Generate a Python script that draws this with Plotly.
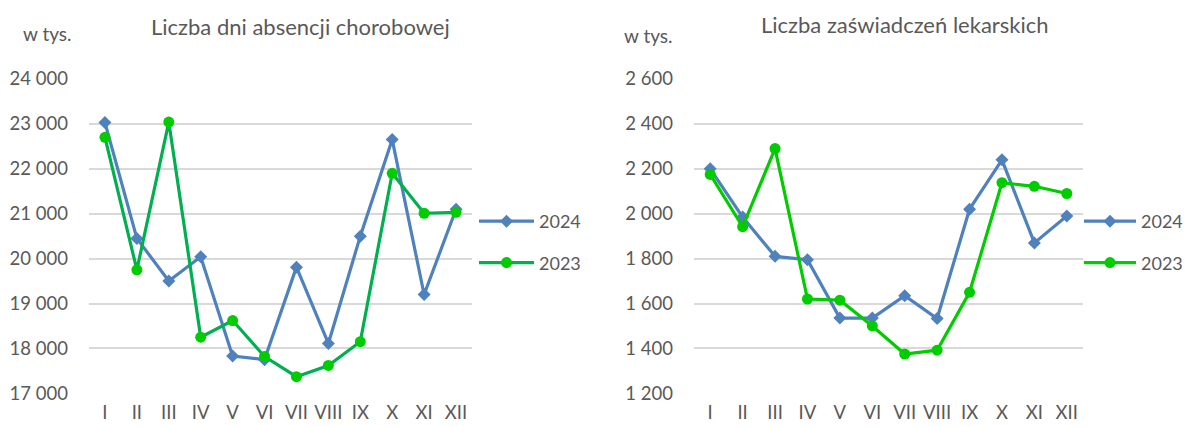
import plotly.graph_objects as go

months = ["I", "II", "III", "IV", "V", "VI", "VII", "VIII", "IX", "X", "XI", "XII"]

absence_2024 = [23030, 20450, 19500, 20040, 17830, 17750, 19810, 18110, 20500, 22650, 19200, 21100]
absence_2023 = [22700, 19750, 23040, 18250, 18620, 17820, 17370, 17620, 18150, 21900, 21010, 21030]

cert_2024 = [2200, 1985, 1810, 1795, 1535, 1535, 1635, 1533, 2020, 2240, 1870, 1990]
cert_2023 = [2175, 1942, 2290, 1620, 1615, 1500, 1375, 1392, 1650, 2138, 2122, 2090]

left_ticks = [17000, 18000, 19000, 20000, 21000, 22000, 23000, 24000]
right_ticks = [1200, 1400, 1600, 1800, 2000, 2200, 2400, 2600]

# page has an 8px body margin, so the figure is placed at (8, 8) in the window
OFF = 8
W, H = 1192, 419
FONT = "Lato"
GRAY = "#595959"
BLUE = "#4F81BD"
GREEN_LINE_L = "#00B050"
GREEN = "#00CC00"


def fmt(v):
    return f"{v:,}".replace(",", " ")


def px_x(p):
    return (p - OFF) / W


def px_y(p):
    return 1 - (p - OFF) / H


fig = go.Figure()

fig.add_trace(go.Scatter(
    x=months, y=absence_2024, name="2024", mode="lines+markers",
    line=dict(color=BLUE, width=3.2), marker=dict(symbol="diamond", size=10, color=BLUE),
    xaxis="x", yaxis="y", legend="legend", legendgroup="a24"))
fig.add_trace(go.Scatter(
    x=months, y=absence_2023, name="2023", mode="lines+markers",
    line=dict(color=GREEN_LINE_L, width=3.2), marker=dict(symbol="circle", size=11, color=GREEN),
    xaxis="x", yaxis="y", legend="legend", legendgroup="a23"))

fig.add_trace(go.Scatter(
    x=months, y=cert_2024, name="2024", mode="lines+markers",
    line=dict(color=BLUE, width=3.2), marker=dict(symbol="diamond", size=10, color=BLUE),
    xaxis="x2", yaxis="y2", legend="legend2", legendgroup="c24"))
fig.add_trace(go.Scatter(
    x=months, y=cert_2023, name="2023", mode="lines+markers",
    line=dict(color=GREEN, width=3.2), marker=dict(symbol="circle", size=11, color=GREEN),
    xaxis="x2", yaxis="y2", legend="legend2", legendgroup="c23"))

y_dom = [px_y(393.3), px_y(79)]

common_x = dict(type="category", range=[-0.5, 11.5], showgrid=False, zeroline=False,
                showline=False, ticks="", automargin=False,
                tickfont=dict(family=FONT, size=18.5, color=GRAY),
                ticklabelstandoff=6)
common_y = dict(showgrid=True, gridcolor="#D9D9D9", gridwidth=1.5, zeroline=False,
                showline=False, ticks="", automargin=False,
                tickfont=dict(family=FONT, size=18.5, color=GRAY),
                ticklabelstandoff=20)

legend_common = dict(xanchor="left", yanchor="top",
                     font=dict(family=FONT, size=18, color=GRAY), tracegroupgap=15,
                     traceorder="grouped", bgcolor="rgba(0,0,0,0)")

fig.update_layout(
    template="none",
    width=W, height=H,
    margin=dict(l=0, r=0, t=0, b=0, autoexpand=False),
    paper_bgcolor="white", plot_bgcolor="white",
    font=dict(family=FONT, color=GRAY),
    showlegend=True,
    xaxis=dict(common_x, domain=[px_x(89), px_x(472)], anchor="y"),
    yaxis=dict(common_y, domain=y_dom, anchor="x", range=[17000, 24000],
               tickvals=left_ticks, ticktext=[fmt(v) for v in left_ticks]),
    xaxis2=dict(common_x, domain=[px_x(694), px_x(1083)], anchor="y2"),
    yaxis2=dict(common_y, domain=y_dom, anchor="x2", range=[1200, 2600],
                tickvals=right_ticks, ticktext=[fmt(v) for v in right_ticks]),
    legend=dict(legend_common, itemwidth=55, x=px_x(474), y=px_y(203)),
    legend2=dict(legend_common, itemwidth=52, x=px_x(1079), y=px_y(203)),
    annotations=[
        dict(text="Liczba dni absencji chorobowej", x=px_x(300), y=px_y(27), xref="paper", yref="paper",
             xanchor="center", yanchor="middle", showarrow=False,
             font=dict(family=FONT, size=22, color=GRAY)),
        dict(text="w tys.", x=px_x(21), y=px_y(33), xref="paper", yref="paper",
             xanchor="left", yanchor="middle", showarrow=False,
             font=dict(family=FONT, size=19, color=GRAY)),
        dict(text="Liczba zaświadczeń lekarskich", x=px_x(905), y=px_y(25), xref="paper", yref="paper",
             xanchor="center", yanchor="middle", showarrow=False,
             font=dict(family=FONT, size=22, color=GRAY)),
        dict(text="w tys.", x=px_x(622), y=px_y(35), xref="paper", yref="paper",
             xanchor="left", yanchor="middle", showarrow=False,
             font=dict(family=FONT, size=19, color=GRAY)),
    ],
)

fig.write_html("out.html")
